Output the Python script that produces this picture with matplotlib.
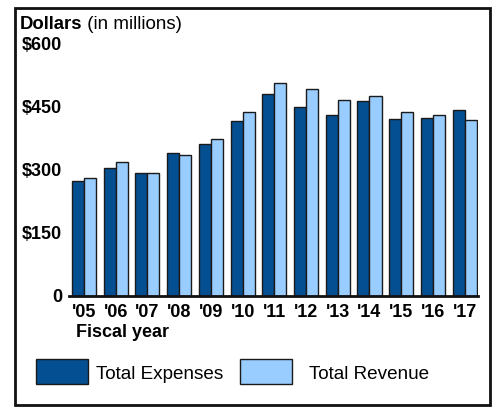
import matplotlib
matplotlib.use("Agg")
import matplotlib.pyplot as plt
import numpy as np
from matplotlib.patches import Rectangle

plt.rcParams['font.family'] = ['Liberation Sans', 'DejaVu Sans']

years = ["'05", "'06", "'07", "'08", "'09", "'10", "'11", "'12", "'13", "'14", "'15", "'16", "'17"]
expenses = [274, 304, 293, 341, 361, 417, 481, 449, 431, 465, 421, 424, 444]
revenue = [281, 318, 293, 335, 373, 437, 506, 494, 467, 475, 437, 430, 419]
series_names = ["Total Expenses", "Total Revenue"]
yticks = [0, 150, 300, 450, 600]
ytick_labels = ["0", "$150", "$300", "$450", "$600"]

dark = '#044f91'
light = '#99ccff'
edge = '#1a1a1a'

W, H = 497, 408
fig = plt.figure(figsize=(W / 100, H / 100), dpi=100)
ax = fig.add_axes([69 / W, (H - 296) / H, (478 - 69) / W, (296 - 44) / H])

x = np.arange(len(years))
bw = 0.38
ax.bar(x - bw / 2, expenses, width=bw, color=dark, edgecolor=edge, linewidth=1.0, zorder=2)
ax.bar(x + bw / 2, revenue, width=bw, color=light, edgecolor=edge, linewidth=1.0, zorder=2)

ax.set_xlim(-0.47, len(years) - 1 + 0.42)
ax.set_ylim(0, 600)
for s in ['left', 'right', 'top']:
    ax.spines[s].set_visible(False)
ax.spines['bottom'].set_linewidth(2)
ax.spines['bottom'].set_color('#111111')
ax.spines['bottom'].set_zorder(3)

ax.set_yticks(yticks)
ax.set_yticklabels(ytick_labels, fontsize=13, fontweight='bold')
ax.set_xticks(x)
ax.set_xticklabels(years, fontsize=13, fontweight='bold')
ax.tick_params(axis='both', length=0)
ax.tick_params(axis='y', pad=5)
ax.tick_params(axis='x', pad=6)

# Title
t = fig.text(20 / W, 1 - 29 / H, "Dollars", fontsize=13.3, fontweight='bold', va='baseline', ha='left')
ax.annotate(" (in millions)", xy=(1, 0), xycoords=t, va='bottom', ha='left', fontsize=13.5)

# Fiscal year label
fig.text(76 / W, 1 - 337 / H, "Fiscal year", fontsize=13, fontweight='bold', va='baseline', ha='left')

# Legend
leg_items = [(36, 96, dark, series_names[0]), (240, 309, light, series_names[1])]
for px, tx, col, name in leg_items:
    fig.add_artist(Rectangle((px / W, 1 - 384 / H), 52 / W, 25 / H, transform=fig.transFigure,
                             facecolor=col, edgecolor=edge, linewidth=1.0))
    fig.text(tx / W, 1 - 379 / H, name, fontsize=13.6, va='baseline', ha='left')

# Outer border
fig.add_artist(Rectangle((15 / W, 1 - 405 / H), 475 / W, 397 / H, transform=fig.transFigure,
                         facecolor='none', edgecolor='#111111', linewidth=2))

fig.savefig("out.png", dpi=100)
